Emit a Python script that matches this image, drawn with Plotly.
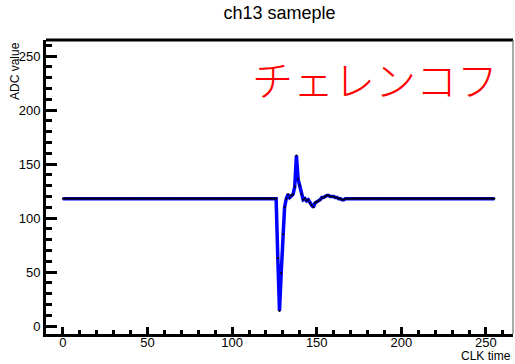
import plotly.graph_objects as go

# ---- data ----
baseline = 118
clk = list(range(256))
pulse_start = 126
pulse_values = [118, 63, 14, 49, 85, 110, 118, 122, 119, 121, 122, 129, 158, 136, 130,
                122, 117, 118, 116, 117, 114, 112, 110, 114, 115, 116, 117, 119, 119,
                120, 121, 121, 120, 120, 120, 119, 119, 118, 118, 117, 117, 118]
adc = [baseline] * len(clk)
for k, v in enumerate(pulse_values):
    adc[pulse_start + k] = v

title_text = "ch13 sameple"
x_title = "CLK time"
y_title = "ADC value"
label_text = "チェレンコフ"

x_range = [-10, 266]
y_range = [-7.4, 265]

fig = go.Figure()
fig.add_trace(go.Scatter(
    x=clk, y=adc, mode="lines+markers",
    line=dict(color="#0000ff", width=3.5),
    marker=dict(color="black", size=2.2, line=dict(width=0)),
    showlegend=False, hoverinfo="skip"))

axis_font = dict(family="Liberation Sans, Arial, sans-serif", size=13, color="black")
title_font = dict(family="Liberation Sans, Arial, sans-serif", size=12, color="black")

fig.update_layout(
    width=515, height=364,
    margin=dict(l=46, r=2, t=40, b=30),
    paper_bgcolor="white", plot_bgcolor="white",
    title=dict(text=title_text, x=0.5427, xanchor="center", y=1, yanchor="top", yref="container",
               pad=dict(t=6),
               font=dict(family="Liberation Sans, Arial, sans-serif", size=18, color="black")),
    xaxis=dict(range=x_range, showgrid=False, zeroline=False,
               showline=True, linewidth=3, linecolor="black",
               ticks="inside", tick0=0, dtick=50, ticklen=7, tickwidth=3, tickcolor="black",
               minor=dict(ticks="inside", dtick=10, tick0=0, ticklen=4, tickwidth=3, tickcolor="black"),
               ticklabelstandoff=-6,
               tickfont=axis_font),
    yaxis=dict(range=y_range, showgrid=False, zeroline=False,
               showline=True, linewidth=3, linecolor="black",
               ticks="inside", tick0=0, dtick=50, ticklen=11, tickwidth=3, tickcolor="black",
               minor=dict(ticks="inside", dtick=10, tick0=0, ticklen=6, tickwidth=3, tickcolor="black"),
               tickfont=axis_font),
    shapes=[
        dict(type="line", xref="paper", yref="paper", x0=0, x1=1, y0=1, y1=1,
             line=dict(color="black", width=3)),
        dict(type="line", xref="paper", yref="paper", x0=1, x1=1, y0=0, y1=1,
             line=dict(color="#555555", width=1)),
    ],
    annotations=[
        dict(text=label_text, xref="paper", yref="paper", x=0.705, y=0.87,
             xanchor="center", yanchor="middle", showarrow=False,
             font=dict(family="Noto Sans CJK JP", size=41, color="red", weight=300)),
        dict(text=x_title, xref="paper", yref="paper", x=1, y=0, xanchor="right", yanchor="top",
             yshift=-13, showarrow=False, font=title_font),
        dict(text=y_title, xref="paper", yref="paper", x=0, y=1, xanchor="center", yanchor="top",
             xshift=-31, textangle=-90, showarrow=False, font=title_font),
    ],
)

fig.write_html("out.html")
